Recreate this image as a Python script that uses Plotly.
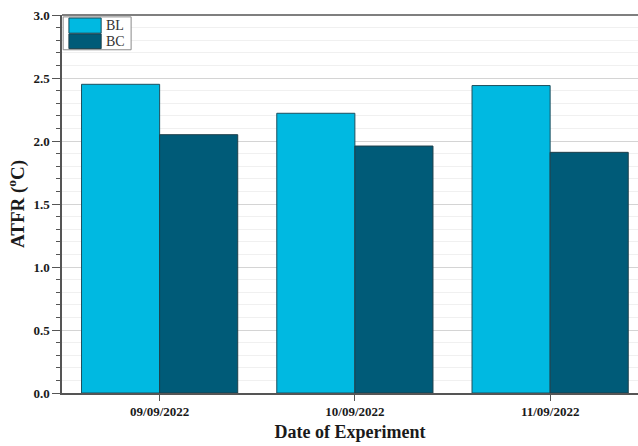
import plotly.graph_objects as go

# Experiment dates and ATFR values (°C) for the two configurations
dates = ["09/09/2022", "10/09/2022", "11/09/2022"]
series_names = ["BL", "BC"]
bl_values = [2.45, 2.22, 2.44]
bc_values = [2.05, 1.96, 1.91]
y_ticks = [0.0, 0.5, 1.0, 1.5, 2.0, 2.5, 3.0]

FONT = "Liberation Serif"
COLORS = ["#00B9E1", "#005B78"]
EDGES = ["#1d4f5e", "#1d3f4a"]

fig = go.Figure()
for name, vals, col, edge in zip(series_names, [bl_values, bc_values], COLORS, EDGES):
    fig.add_trace(go.Bar(
        x=dates, y=vals, name=name,
        marker=dict(color=col, line=dict(color=edge, width=1)),
    ))

fig.update_layout(
    width=638, height=446,
    margin=dict(l=62, r=0, t=15, b=53),
    paper_bgcolor="white", plot_bgcolor="white",
    barmode="group", bargap=0.2, bargroupgap=0,
    font=dict(family=FONT, color="#1a1a1a"),
    showlegend=False,
)

fig.update_xaxes(
    range=[-0.5, 2.45],
    showline=True, linecolor="#555555", linewidth=1.5,
    ticks="outside", ticklen=6, tickcolor="#555555",
    tickfont=dict(family=FONT, size=13, color="#1a1a1a", weight="bold"),
    title=dict(text="<b>Date of Experiment</b>",
               font=dict(family=FONT, size=18, color="#1a1a1a"), standoff=7),
    showgrid=False,
)
fig.update_yaxes(
    range=[0, 3.0],
    tickvals=y_ticks, ticktext=[f"{v:.1f}" for v in y_ticks],
    showline=True, linecolor="#555555", linewidth=1.5,
    ticks="outside", ticklen=8, tickcolor="#555555",
    tickfont=dict(family=FONT, size=13, color="#1a1a1a", weight="bold"),
    showgrid=True, gridcolor="#d4d4d4", gridwidth=1,
    minor=dict(dtick=0.1, ticks="outside", ticklen=4, tickcolor="#555555",
               showgrid=True, gridcolor="#f0f0f0", gridwidth=1),
    title=dict(text="<b>ATFR (<sup>o</sup>C)</b>",
               font=dict(family=FONT, size=19, color="#1a1a1a"), standoff=4),
    zeroline=False,
)

# Frame line along the top of the plotting area
fig.add_shape(type="line", xref="paper", yref="paper",
              x0=0, x1=1, y0=1, y1=1,
              line=dict(color="#555555", width=1.5))

# Legend box with wide colour swatches in the upper-left corner
fig.add_shape(type="rect", xref="paper", yref="paper",
              x0=0.002, x1=0.120, y0=0.908, y1=0.995,
              line=dict(color="#8a8a8a", width=1), fillcolor="white")
swatch_rows = [(0.952, 0.992), (0.911, 0.950)]
for name, col, edge, (y0, y1) in zip(series_names, COLORS, EDGES, swatch_rows):
    fig.add_shape(type="rect", xref="paper", yref="paper",
                  x0=0.012, x1=0.068, y0=y0, y1=y1,
                  line=dict(color=edge, width=1), fillcolor=col)
    fig.add_annotation(xref="paper", yref="paper", x=0.073, y=(y0 + y1) / 2,
                       text=name, showarrow=False, xanchor="left", yanchor="middle",
                       font=dict(family=FONT, size=14, color="#333333"))

fig.write_html("out.html")
